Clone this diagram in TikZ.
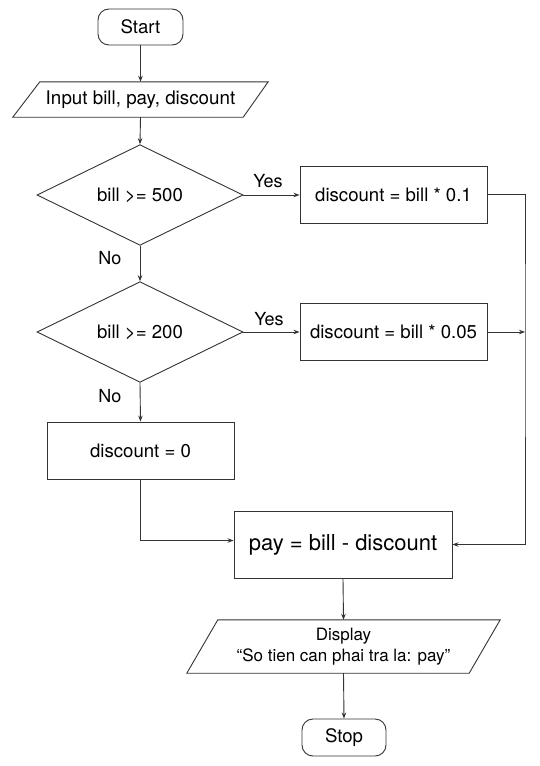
\documentclass[tikz,border=0pt]{standalone}
\usepackage{fontspec}
\setmainfont{TeX Gyre Heros}
\usetikzlibrary{shapes.geometric,arrows.meta,calc}
\tikzset{
  base/.style={draw=black!80, line width=0.9pt, inner sep=0pt, align=center, font=\fontsize{18.6}{22}\selectfont},
  term/.style={base, rounded corners=11pt, minimum width=85pt, minimum height=36pt},
  procbox/.style={base, rectangle, minimum width=187pt, minimum height=57pt},
  decis/.style={base, diamond, minimum width=206pt, minimum height=98pt},
  ghost/.style={rectangle, inner sep=0pt, align=center},
  conn/.style={draw=black!80, line width=0.9pt, -{Stealth[length=6pt,width=4.5pt]}},
  wire/.style={draw=black!80, line width=0.9pt},
  lbl/.style={font=\fontsize{18}{21}\selectfont}
}
\begin{document}
\begin{tikzpicture}[x=1pt,y=-1pt]
\useasboundingbox (0,0) rectangle (539,766);
% nodes
\node[term] (start) at (140.5,27) {Start};
\node[ghost, minimum width=255pt, minimum height=35pt, font=\fontsize{18.8}{22}\selectfont] (in) at (140.5,99.5) {Input bill, pay, discount};
\draw[wire] ($(in.north west)+(27,0)$) -- (in.north east) -- ($(in.south east)+(-25,0)$) -- (in.south west) -- cycle;
\node[decis] (d1) at (140,195) {bill >= 500};
\node[procbox] (b1) at (393.5,194.5) {discount = bill * 0.1};
\node[decis] (d2) at (140,332) {bill >= 200};
\node[procbox] (b2) at (393.5,332) {discount = bill * 0.05};
\node[procbox] (b3) at (140.5,450.5) {discount = 0};
\node[base, rectangle, minimum width=218pt, minimum height=67pt, font=\fontsize{22}{26}\selectfont] (pay) at (343,544.5) {pay = bill - discount};
\node[ghost, minimum width=313pt, minimum height=53pt, font=\fontsize{17}{20.5}\selectfont] (disp) at (343.5,646.5) {Display\\“So tien can phai tra la: pay”};
\draw[wire] ($(disp.north west)+(31,0)$) -- (disp.north east) -- ($(disp.south east)+(-31,0)$) -- (disp.south west) -- cycle;
\node[term, minimum width=84pt, minimum height=37pt] (stop) at (344,737.5) {Stop};
% labels
\node[lbl] (y1) at (268,181) {Yes};
\node[lbl] (n1) at (110,258) {No};
\node[lbl] (y2) at (269,319) {Yes};
\node[lbl] (n2) at (110,396) {No};
% join coordinates
\coordinate (rj) at (525,332);
% connectors
\draw[conn] (start.south) -- (in.north);
\draw[conn] (in.south) -- (d1.north);
\draw[conn] (d1.east) -- (d1.east -| b1.west);
\draw[conn] (d1.south) -- (d2.north);
\draw[conn] (d2.east) -- (b2.west);
\draw[conn] (d2.south) -- (b3.north);
\draw[conn] (b1.east) -| (rj) |- (pay.east);
\draw[conn] (b2.east) -- (rj);
\draw[conn] (b3.south) |- ($(pay.west)+(0,-4)$);
\draw[conn] (pay.south) -- (disp.north);
\draw[conn] (disp.south) -- (stop.north);
\end{tikzpicture}
\end{document}
